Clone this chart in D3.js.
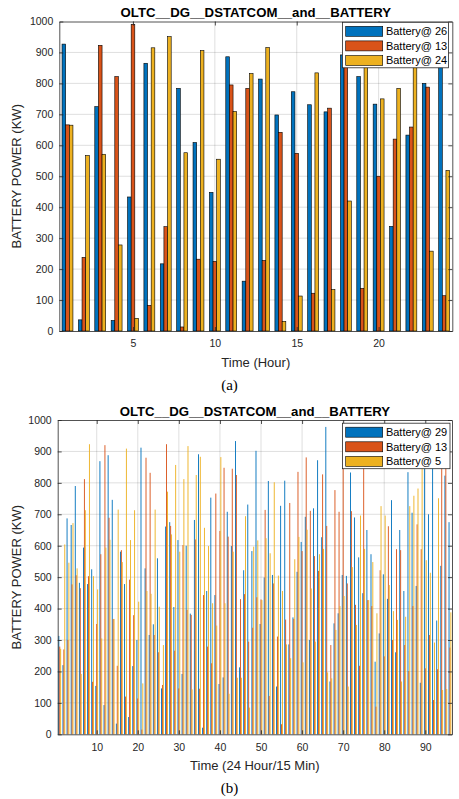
<!DOCTYPE html>
<html>
<head>
<meta charset="utf-8">
<script src="https://cdn.jsdelivr.net/npm/d3@7/dist/d3.min.js"></script>
<style>
body{margin:0;background:#fff;}
text{font-family:"Liberation Sans",Arial,sans-serif;}
</style>
</head>
<body>
<script>
var titleText = "OLTC__DG__DSTATCOM__and__BATTERY";
var yLabel = "BATTERY POWER (KW)";
var yTicks = [0,100,200,300,400,500,600,700,800,900,1000];

// (a) hourly
var hoursA = d3.range(1,25);
var xTicksA = [5,10,15,20];
var legendA = ["Battery@ 26","Battery@ 13","Battery@ 24"];
var bat26 = [927,36,725,34,433,865,217,784,609,448,886,161,814,698,773,731,708,892,822,733,338,633,800,880];
var bat13a = [666,238,923,822,991,83,337,13,232,225,795,784,228,642,574,122,720,930,138,500,620,659,788,114];
var bat24 = [665,567,571,278,41,915,951,576,906,555,709,832,916,31,113,834,134,420,870,750,784,900,258,519];

// (b) 15 min
var quartersB = d3.range(1,97);
var xTicksB = [10,20,30,40,50,60,70,80,90];
var legendB = ["Battery@ 29","Battery@ 13","Battery@ 5"];
var bat29 = [313,220,687,666,790,482,594,478,525,154,869,93,888,746,34,581,478,55,217,300,
  912,528,316,350,560,146,661,675,405,618,192,600,384,682,891,21,456,753,443,160,
  181,708,599,933,213,522,731,583,902,351,499,806,507,152,727,807,286,372,517,612,
  692,300,719,872,627,978,168,353,385,507,504,833,690,563,449,650,573,231,321,509,
  431,745,261,650,456,834,705,472,164,855,700,846,362,536,823,675];
var bat13b = [279,270,300,477,506,465,812,503,167,351,573,920,689,367,218,586,120,492,379,114,
  15,880,832,316,261,157,923,663,266,146,602,396,380,620,145,443,279,226,766,647,
  848,629,845,825,430,446,295,339,436,429,714,122,480,311,32,365,736,367,835,583,
  881,711,567,520,827,663,284,777,708,965,480,710,412,218,900,427,408,88,522,248,
  662,300,589,586,284,201,408,668,589,210,316,109,207,870,880,276];
var bat5 = [272,604,546,672,528,192,713,923,503,461,305,594,619,367,715,548,909,618,713,422,
  162,456,447,715,406,284,772,636,857,581,812,917,143,825,883,657,599,417,346,882,
  417,129,581,180,180,694,85,597,617,427,624,576,802,505,456,286,242,557,628,229,
  651,464,295,573,590,197,178,332,408,440,152,532,348,696,590,427,548,385,726,696,
  475,392,364,168,374,726,759,782,846,554,514,292,751,141,144,388];

var colors = ["#0072BD","#D95319","#EDB120"];
var axisColor = "#262626";

var width=459, height=799;
var svg = d3.select("body").append("svg").attr("width",width).attr("height",height);

function panel(o){
  var g = svg.append("g");
  var xscale = d3.scaleLinear().domain(o.xdom).range([o.left,o.right]);
  var yscale = d3.scaleLinear().domain([0,1000]).range([o.bottom,o.top]);

  // grid
  g.append("g").selectAll("line").data(o.xticks).enter().append("line")
    .attr("x1",d=>xscale(d)).attr("x2",d=>xscale(d))
    .attr("y1",o.top).attr("y2",o.bottom)
    .attr("stroke",axisColor).attr("stroke-opacity",0.15).attr("stroke-width",1);
  g.append("g").selectAll("line").data(yTicks.slice(1,-1)).enter().append("line")
    .attr("x1",o.left).attr("x2",o.right)
    .attr("y1",d=>yscale(d)).attr("y2",d=>yscale(d))
    .attr("stroke",axisColor).attr("stroke-opacity",0.15).attr("stroke-width",1);

  // grouped bars
  var slot = 0.222;
  var bw = xscale(slot)-xscale(0);
  o.series.forEach(function(s,k){
    g.append("g").selectAll("rect").data(s).enter().append("rect")
      .attr("x",(d,i)=>xscale(o.cats[i]+(k-1)*slot)-bw/2)
      .attr("width",bw)
      .attr("y",d=>yscale(d))
      .attr("height",d=>yscale(0)-yscale(d))
      .attr("fill",colors[k])
      .attr("stroke",o.edge ? "#000" : "none")
      .attr("stroke-width",0.6);
  });

  // axes (box with inward ticks)
  var xa = g.append("g").attr("transform","translate(0,"+o.bottom+")")
    .call(d3.axisBottom(xscale).tickValues(o.xticks).tickSizeInner(-4).tickSizeOuter(0).tickPadding(9).tickFormat(d3.format("d")));
  var ya = g.append("g").attr("transform","translate("+o.left+",0)")
    .call(d3.axisLeft(yscale).tickValues(yTicks).tickSizeInner(-4).tickSizeOuter(0).tickPadding(6).tickFormat(d3.format("d")));
  var xt = g.append("g").attr("transform","translate(0,"+o.top+")")
    .call(d3.axisTop(xscale).tickValues(o.xticks).tickSizeInner(-4).tickSizeOuter(0).tickFormat(""));
  var yr = g.append("g").attr("transform","translate("+o.right+",0)")
    .call(d3.axisRight(yscale).tickValues(yTicks).tickSizeInner(-4).tickSizeOuter(0).tickFormat(""));
  [xa,ya,xt,yr].forEach(function(a){
    a.selectAll("path,line").attr("stroke",axisColor).attr("stroke-width",0.8);
    a.selectAll("text").attr("fill",axisColor)
      .style("font-family","'Liberation Sans',Arial,sans-serif").style("font-size","10.5px");
  });

  // title and labels
  g.append("text").attr("x",(o.left+o.right)/2).attr("y",o.top-4.5)
    .attr("text-anchor","middle").style("font-weight","bold").style("font-size","13.2px")
    .attr("fill","#000").text(titleText);
  g.append("text").attr("x",(o.left+o.right)/2).attr("y",o.bottom+35.5)
    .attr("text-anchor","middle").style("font-size","13px").attr("fill",axisColor).text(o.xlabel);
  g.append("text").attr("transform","translate(21,"+((o.top+o.bottom)/2)+") rotate(-90)")
    .attr("text-anchor","middle").style("font-size","13px").attr("fill",axisColor).text(yLabel);
  g.append("text").attr("x",229.5).attr("y",o.bottom+59)
    .attr("text-anchor","middle").style("font-family","'Liberation Serif','Times New Roman',serif")
    .style("font-size","15px").attr("fill","#000").text(o.caption);

  // legend
  var lg = g.append("g").attr("transform","translate("+o.legX+","+o.legY+")");
  lg.append("rect").attr("x",0).attr("y",0).attr("width",o.legW).attr("height",45.5)
    .attr("fill","#fff").attr("stroke",axisColor).attr("stroke-width",0.8);
  o.names.forEach(function(n,k){
    lg.append("rect").attr("x",3.3).attr("y",4+k*14.6).attr("width",37).attr("height",10)
      .attr("fill",colors[k]).attr("stroke","#000").attr("stroke-width",0.6);
    lg.append("text").attr("x",43.5).attr("y",13+k*14.6)
      .style("font-size","11px").attr("fill","#000").text(n);
  });
}

panel({
  left:59.3, right:452.3, top:21.5, bottom:331,
  xdom:[0.5,24.5], xticks:xTicksA, cats:hoursA,
  series:[bat26,bat13a,bat24], names:legendA, edge:true,
  xlabel:"Time (Hour)", caption:"(a)",
  legX:342.4, legY:22.3, legW:106
});

panel({
  left:57.7, right:452, top:420, bottom:734.3,
  xdom:[0.5,96.5], xticks:xTicksB, cats:quartersB,
  series:[bat29,bat13b,bat5], names:legendB, edge:false,
  xlabel:"Time (24 Hour/15 Min)", caption:"(b)",
  legX:342.4, legY:423.2, legW:107.6
});
</script>
</body>
</html>
